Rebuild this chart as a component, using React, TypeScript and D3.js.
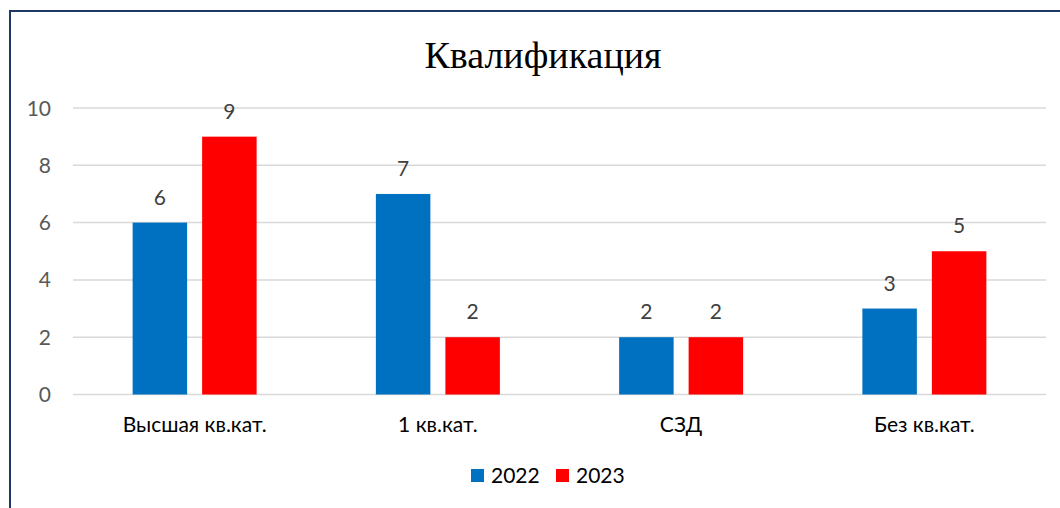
import React from "react";
import * as d3 from "d3";

const categories = ["Высшая кв.кат.", "1 кв.кат.", "СЗД", "Без кв.кат."];
const series2022 = [6, 7, 2, 3];
const series2023 = [9, 2, 2, 5];
const seriesNames = ["2022", "2023"];
const yTicks = [0, 2, 4, 6, 8, 10];
const title = "Квалификация";

const colors = ["#0070C0", "#FF0000"];
const W = 1060;
const H = 508;
const font = "Lato, 'Open Sans', sans-serif";
const fs = 21;

export default function App() {
  const left = 73;
  const right = 1046;
  const x0 = d3.scaleBand<string>().domain(categories).range([left, right]);
  const y = d3.scaleLinear().domain([0, 10]).range([394.5, 108]);
  const barW = 54.5;
  const gap = 15;
  const data = [series2022, series2023];

  return (
    <svg width={W} height={H} style={{ position: "absolute", left: 0, top: 0 }}>
      <rect x={0} y={0} width={W} height={H} fill="#fff" />
      <rect x={10} y={11} width={W + 20} height={H + 20} fill="none" stroke="#1F3864" strokeWidth={2} />
      <text x={543} y={68} textAnchor="middle" fontFamily="'Liberation Serif', 'Times New Roman', serif" fontSize={38} fill="#000">
        {title}
      </text>
      {yTicks.map((t) => (
        <g key={t}>
          <line x1={left} x2={right} y1={y(t)} y2={y(t)} stroke="#D9D9D9" strokeWidth={1.5} />
          <text x={51} y={y(t)} dy="0.36em" textAnchor="end" fontFamily={font} fontSize={fs} fill="#595959">
            {t}
          </text>
        </g>
      ))}
      {categories.map((c, i) => {
        const cx = (x0(c) as number) + x0.bandwidth() / 2;
        return (
          <g key={c}>
            {data.map((s, k) => {
              const bx = k === 0 ? cx - gap / 2 - barW : cx + gap / 2;
              const v = s[i];
              return (
                <g key={k}>
                  <rect x={bx} y={y(v)} width={barW} height={y(0) - y(v)} fill={colors[k]} />
                  <text x={bx + barW / 2} y={y(v) - 18} textAnchor="middle" fontFamily={font} fontSize={fs} fill="#404040">
                    {v}
                  </text>
                </g>
              );
            })}
            <text x={cx} y={432} textAnchor="middle" fontFamily={font} fontSize={fs} fill="#000">
              {c}
            </text>
          </g>
        );
      })}
      {seriesNames.map((n, k) => {
        const lx = [471, 556][k];
        return (
          <g key={n}>
            <rect x={lx} y={469} width={13} height={13} fill={colors[k]} />
            <text x={lx + 20} y={483} fontFamily={font} fontSize={fs} fill="#000">
              {n}
            </text>
          </g>
        );
      })}
    </svg>
  );
}
